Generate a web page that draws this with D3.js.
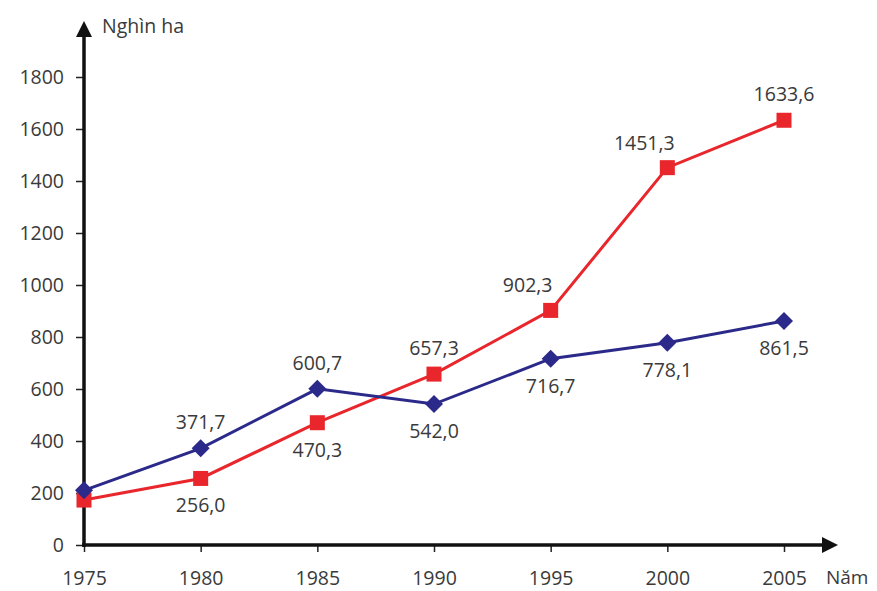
<!DOCTYPE html>
<html>
<head>
<meta charset="utf-8">
<script src="https://cdn.jsdelivr.net/npm/d3@7"></script>
<style>
  html, body { margin: 0; padding: 0; background: #fff; }
  svg { display: block; }
  text { font-family: "Open Sans", "Noto Sans", sans-serif; fill: #3a3a3a; }
</style>
</head>
<body>
<svg id="chart" width="877" height="591"></svg>
<script>
// Diện tích gieo trồng cây công nghiệp (nghìn ha)
const years = [1975, 1980, 1985, 1990, 1995, 2000, 2005];
const hangNam = [210.1, 371.7, 600.7, 542.0, 716.7, 778.1, 861.5];   // cây công nghiệp hàng năm
const lauNam  = [172.8, 256.0, 470.3, 657.3, 902.3, 1451.3, 1633.6]; // cây công nghiệp lâu năm
const yTicks = [0, 200, 400, 600, 800, 1000, 1200, 1400, 1600, 1800];
const xTickLabels = ["1975", "1980", "1985", "1990", "1995", "2000", "2005"];

// where each value label sits relative to its point
const hangNamLabelPos = [null, "above", "above", "below", "below", "below", "below"];
const lauNamLabelPos  = [null, "below", "below", "above", "aboveLeft", "aboveLeft", "above"];

const FS = 19.5;
const svg = d3.select("#chart");
const x0 = 84, y0 = 545;

const x = d3.scaleLinear().domain([1975, 2005]).range([x0, 784]);
const y = d3.scaleLinear().domain([0, 1800]).range([y0, 77]);

const fmt = v => d3.format(".1f")(v).replace(".", ",");

// y axis ticks and labels
const yAxis = svg.append("g").attr("transform", `translate(${x0},0)`)
  .call(d3.axisLeft(y).tickValues(yTicks).tickSize(8).tickPadding(12).tickFormat(d => String(d)));
yAxis.select(".domain").remove();
yAxis.selectAll(".tick line").attr("stroke", "#222").attr("stroke-width", 1.5);
yAxis.selectAll(".tick text").attr("font-size", FS).attr("fill", "#3a3a3a")
  .attr("font-family", "\"Open Sans\", sans-serif");

// x axis ticks and labels
const xAxis = svg.append("g").attr("transform", `translate(0,${y0})`)
  .call(d3.axisBottom(x).tickValues(years).tickSize(7).tickPadding(19)
    .tickFormat((d, i) => xTickLabels[i]));
xAxis.select(".domain").remove();
xAxis.selectAll(".tick line").attr("stroke", "#222").attr("stroke-width", 1.5);
xAxis.selectAll(".tick text").attr("font-size", FS).attr("fill", "#3a3a3a")
  .attr("font-family", "\"Open Sans\", sans-serif");

// axis lines with arrowheads
svg.append("line").attr("x1", x0).attr("y1", y0 + 2).attr("x2", x0).attr("y2", 34)
  .attr("stroke", "#111").attr("stroke-width", 3.5);
svg.append("path").attr("d", `M${x0},21 L${x0 - 8},37 L${x0 + 8},37 Z`).attr("fill", "#111");
svg.append("line").attr("x1", x0 - 2).attr("y1", y0).attr("x2", 824).attr("y2", y0)
  .attr("stroke", "#111").attr("stroke-width", 3.5);
svg.append("path").attr("d", `M838,${y0} L822,${y0 - 8} L822,${y0 + 8} Z`).attr("fill", "#111");

// axis titles
svg.append("text").attr("x", 102).attr("y", 33).attr("font-size", FS).text("Nghìn ha");
svg.append("text").attr("x", 826).attr("y", 584).attr("font-size", FS - 0.5).text("Năm");

const line = d3.line().x((d, i) => x(years[i])).y(d => y(d));

// lâu năm (red, square markers)
const red = "#e8262c", blue = "#2b2a8a";
svg.append("path").datum(lauNam).attr("d", line)
  .attr("fill", "none").attr("stroke", red).attr("stroke-width", 3);
svg.append("g").selectAll("rect").data(lauNam).join("rect")
  .attr("x", (d, i) => x(years[i]) - 7.5).attr("y", d => y(d) - 7.5)
  .attr("width", 15).attr("height", 15).attr("fill", red);

// hàng năm (blue, diamond markers)
svg.append("path").datum(hangNam).attr("d", line)
  .attr("fill", "none").attr("stroke", blue).attr("stroke-width", 3);
svg.append("g").selectAll("path").data(hangNam).join("path")
  .attr("d", (d, i) => {
    const cx = x(years[i]), cy = y(d), r = 9;
    return `M${cx},${cy - r} L${cx + r},${cy} L${cx},${cy + r} L${cx - r},${cy} Z`;
  })
  .attr("fill", blue);

// value labels
function addLabels(values, positions) {
  values.forEach((v, i) => {
    const p = positions[i];
    if (!p) return;
    let dx = 0, dy = -19;
    if (p === "below") dy = 34;
    if (p === "aboveLeft") { dx = -23; dy = -18; }
    svg.append("text")
      .attr("x", x(years[i]) + dx).attr("y", y(v) + dy)
      .attr("text-anchor", "middle").attr("font-size", FS)
      .text(fmt(v));
  });
}
addLabels(hangNam, hangNamLabelPos);
addLabels(lauNam, lauNamLabelPos);
</script>
</body>
</html>
